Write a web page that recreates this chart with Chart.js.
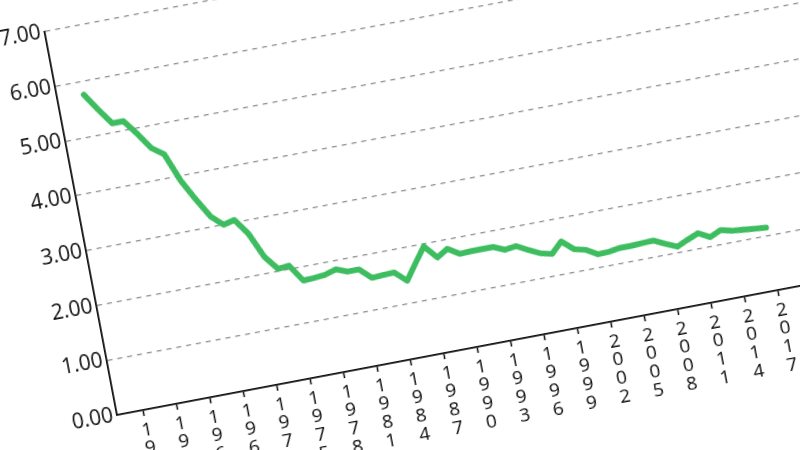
<!DOCTYPE html>
<html>
<head>
<meta charset="utf-8">
<script src="https://cdn.jsdelivr.net/npm/chart.js@4.4.1/dist/chart.umd.min.js"></script>
<style>
  html, body { margin: 0; padding: 0; background: #fff; }
  #stage { position: relative; width: 800px; height: 450px; overflow: hidden; background: #fff; }
  #wrap { position: absolute; left: 0; top: 0; width: 850px; height: 510px; }
</style>
</head>
<body>
<div id="stage">
  <div id="wrap"><canvas id="myChart" width="850" height="510"></canvas></div>
</div>
<script>
// Data
var years = [1960, 1961, 1962, 1963, 1964, 1965, 1966, 1967, 1968, 1969,
  1970, 1971, 1972, 1973, 1974, 1975, 1976, 1977, 1978, 1979,
  1980, 1981, 1982, 1983, 1984, 1985, 1986, 1987, 1988, 1989,
  1990, 1991, 1992, 1993, 1994, 1995, 1996, 1997, 1998, 1999,
  2000, 2001, 2002, 2003, 2004, 2005, 2006, 2007, 2008, 2009,
  2010, 2011, 2012, 2013, 2014, 2015, 2016, 2017];
var values = [5.76, 5.45, 5.16, 5.16, 4.89, 4.59, 4.44, 3.92, 3.54, 3.19,
  3.00, 3.05, 2.76, 2.30, 2.04, 2.06, 1.75, 1.76, 1.78, 1.84,
  1.76, 1.76, 1.57, 1.58, 1.59, 1.40, 1.68, 1.95, 1.71, 1.83,
  1.70, 1.71, 1.71, 1.71, 1.62, 1.65, 1.54, 1.44, 1.39, 1.58,
  1.40, 1.35, 1.23, 1.24, 1.27, 1.27, 1.28, 1.29, 1.19, 1.10,
  1.19, 1.27, 1.16, 1.25, 1.20, 1.18, 1.16, 1.14];
var tickYears = [1960, 1963, 1966, 1969, 1972, 1975, 1978, 1981, 1984, 1987,
  1990, 1993, 1996, 1999, 2002, 2005, 2008, 2011, 2014, 2017];

var fontFamily = "'Open Sans', 'DejaVu Sans', sans-serif";
var ink = "#0d0d0d";

var points = years.map((y, i) => ({ x: y, y: values[i] }));

const ctx = document.getElementById('myChart').getContext('2d');
const myChart = new Chart(ctx, {
  type: 'line',
  data: {
    datasets: [{
      data: points,
      borderColor: '#3dbd60',
      borderWidth: 5.8,
      pointRadius: 0,
      tension: 0,
      borderJoinStyle: 'round',
      borderCapStyle: 'round',
      fill: false
    }]
  },
  options: {
    responsive: false,
    animation: false,
    devicePixelRatio: 1,
    layout: { padding: { top: 20, right: 10, bottom: 0, left: 0 } },
    plugins: {
      legend: { display: false },
      tooltip: { enabled: false }
    },
    scales: {
      x: {
        type: 'linear',
        min: 1957.63,
        max: 2024.71,
        afterBuildTicks: function (scale) {
          scale.ticks = tickYears.map(v => ({ value: v }));
        },
        afterFit: function (scale) { scale.height = 100; },
        grid: {
          drawOnChartArea: false,
          drawTicks: true,
          tickLength: 6,
          tickColor: ink,
          tickWidth: 1.5
        },
        border: { display: true, color: ink, width: 1.8 },
        ticks: {
          autoSkip: false,
          maxRotation: 0,
          minRotation: 0,
          padding: 5,
          color: ink,
          font: { family: fontFamily, size: 19, lineHeight: 0.98 },
          callback: function (value) { return String(value).split(''); }
        }
      },
      y: {
        min: 0,
        max: 7,
        afterFit: function (scale) { scale.width = 80; },
        grid: {
          drawTicks: false,
          color: 'rgba(125,125,125,0.85)',
          lineWidth: 1.3
        },
        border: { display: true, color: ink, width: 1.8, dash: [5, 5] },
        ticks: {
          stepSize: 1,
          padding: 4,
          color: ink,
          font: { family: fontFamily, size: 21 },
          callback: function (value) { return value.toFixed(2); }
        }
      }
    }
  }
});

// place the plot corner on the picture and tilt the whole chart
var area = myChart.chartArea;
var wrap = document.getElementById('wrap');
wrap.style.left = (116.7 - area.left) + 'px';
wrap.style.top = (415 - area.bottom) + 'px';
wrap.style.transformOrigin = area.left + 'px ' + area.bottom + 'px';
wrap.style.transform = 'rotate(-10.7deg)';
</script>
</body>
</html>
